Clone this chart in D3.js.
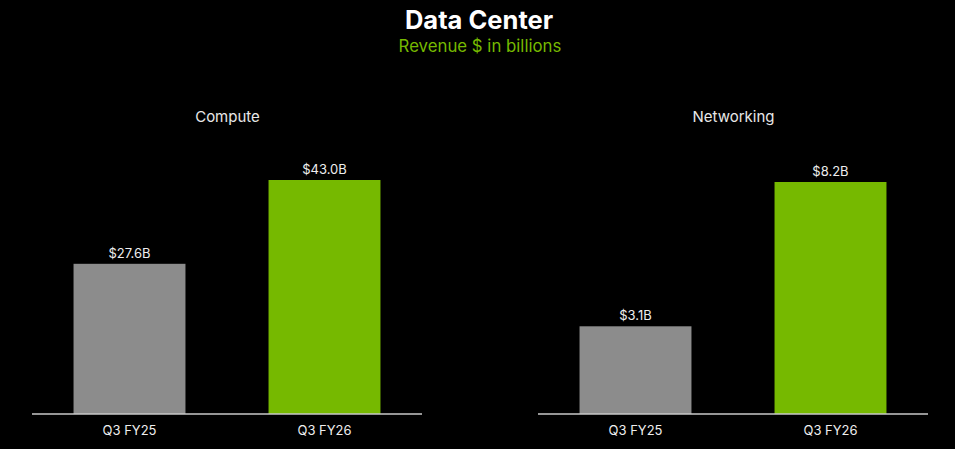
<!DOCTYPE html>
<html><head><meta charset="utf-8">
<script src="https://cdn.jsdelivr.net/npm/d3@7"></script>
<style>html,body{margin:0;padding:0;background:#000;}svg{display:block;}</style>
</head><body>
<svg id="chart" width="955" height="449"></svg>
<script>
const title = "Data Center";
const subtitle = "Revenue $ in billions";
const categories = ["Q3 FY25", "Q3 FY26"];
const panels = ["Compute", "Networking"];
const computeValues = [27.6, 43.0];
const networkingValues = [3.1, 8.2];
const valueLabels = [["$27.6B", "$43.0B"], ["$3.1B", "$8.2B"]];

const svg = d3.select("#chart");
const W = 955, H = 449;
svg.append("rect").attr("width", W).attr("height", H).attr("fill", "#000");
const font = "Inter, 'Noto Sans', sans-serif";
const colors = ["#8c8c8c", "#76b900"];

svg.append("text").attr("x", 479).attr("y", 29).attr("text-anchor", "middle")
  .attr("font-family", font).attr("font-weight", 700).attr("font-size", 25.5)
  .attr("fill", "#fff").text(title);
svg.append("text").attr("x", 480).attr("y", 52).attr("text-anchor", "middle")
  .attr("font-family", font).attr("font-size", 16.8)
  .attr("fill", "#76b900").text(subtitle);

const baseY = 414;
const panelDefs = [
  {name: panels[0], values: computeValues, labels: valueLabels[0], x0: 32, x1: 422},
  {name: panels[1], values: networkingValues, labels: valueLabels[1], x0: 538, x1: 928}
];

panelDefs.forEach((p, pi) => {
  const g = svg.append("g");
  const x = d3.scaleBand().domain(categories).range([p.x0, p.x1]).paddingInner(0.426).paddingOuter(0.213);
  const maxV = d3.max(p.values);
  const yTopPx = pi === 0 ? 180 : 182;
  const y = d3.scaleLinear().domain([0, maxV]).range([baseY, yTopPx]);

  g.append("text").attr("x", (p.x0 + p.x1) / 2 + 0.5).attr("y", 122).attr("text-anchor", "middle")
    .attr("font-family", font).attr("font-size", 15).attr("fill", "#e8e8e8").text(p.name);

  g.selectAll("rect.bar").data(p.values).join("rect").attr("class", "bar")
    .attr("x", (d, i) => x(categories[i])).attr("width", x.bandwidth())
    .attr("y", d => y(d)).attr("height", d => baseY - y(d))
    .attr("fill", (d, i) => colors[i]);

  g.selectAll("text.val").data(p.values).join("text").attr("class", "val")
    .attr("x", (d, i) => x(categories[i]) + x.bandwidth() / 2)
    .attr("y", d => y(d) - 6).attr("text-anchor", "middle")
    .attr("font-family", font).attr("font-size", 13).attr("fill", "#eee")
    .text((d, i) => p.labels[i]);

  const axis = d3.axisBottom(x).tickSize(0).tickPadding(12);
  const ag = g.append("g").attr("transform", `translate(0,${baseY})`).call(axis);
  ag.select(".domain").attr("stroke", "#c8c8c8").attr("stroke-width", 1.5)
    .attr("d", `M${p.x0},0H${p.x1}`);
  ag.selectAll(".tick text").attr("font-family", font).attr("font-size", 13).attr("fill", "#eee");
});
</script>
</body></html>
